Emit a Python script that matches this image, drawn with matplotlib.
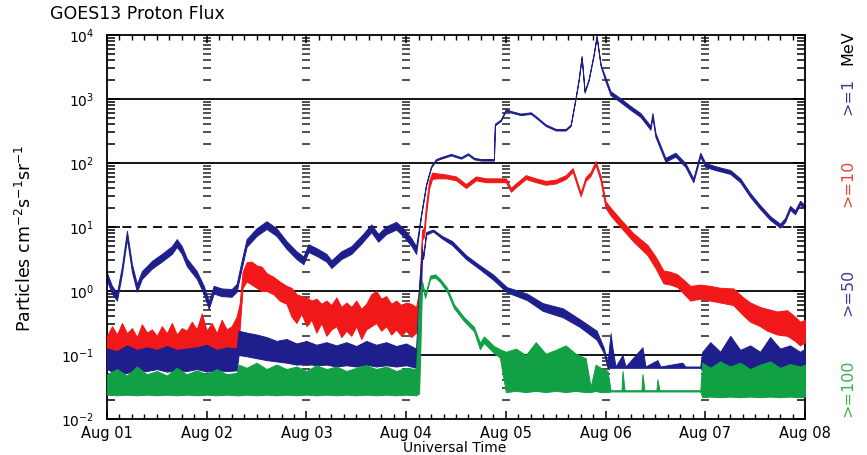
import numpy as np
import matplotlib
matplotlib.use('Agg')
import matplotlib.pyplot as plt
from matplotlib.ticker import MultipleLocator, LogLocator, FixedLocator, NullFormatter

# time in days since Aug 01 00 UT, flux as log10 (low / high edge of the noisy trace)
p1_t = [0.00, 0.05, 0.10, 0.15, 0.20, 0.25, 0.30, 0.35, 0.45, 0.55, 0.65, 0.70, 0.75, 0.80,
        0.90, 0.97, 1.02, 1.07, 1.15, 1.25, 1.30, 1.35, 1.40, 1.50, 1.60, 1.70, 1.80, 1.90,
        1.97, 2.02, 2.10, 2.20, 2.25, 2.35, 2.45, 2.55, 2.65, 2.72, 2.80, 2.90, 2.97, 3.05,
        3.10, 3.15, 3.20, 3.25, 3.30, 3.35, 3.45, 3.55, 3.62, 3.68, 3.75, 3.80, 3.88, 3.89,
        3.95, 4.00, 4.05, 4.15, 4.25, 4.30, 4.40, 4.50, 4.60, 4.65, 4.70, 4.73, 4.76, 4.79,
        4.83, 4.88, 4.91, 4.95, 5.00, 5.05, 5.15, 5.25, 5.35, 5.45, 5.47, 5.50, 5.60, 5.70,
        5.80, 5.88, 5.95, 6.00, 6.10, 6.25, 6.35, 6.45, 6.55, 6.65, 6.75, 6.80, 6.85, 6.90,
        6.95, 7.00]
p1_v = [0.22, 0.02, -0.09, 0.33, 0.88, 0.36, 0.05, 0.25, 0.41, 0.52, 0.64, 0.75, 0.64, 0.45,
        0.25, 0.02, -0.22, 0.02, -0.02, -0.03, 0.05, 0.41, 0.75, 0.92, 1.03, 0.92, 0.72, 0.56,
        0.48, 0.67, 0.61, 0.52, 0.42, 0.56, 0.64, 0.80, 0.98, 0.83, 0.95, 1.02, 0.92, 0.77,
        0.64, 1.19, 1.66, 1.94, 2.05, 2.08, 2.13, 2.08, 2.14, 2.07, 2.05, 2.05, 2.05, 2.60,
        2.67, 2.83, 2.80, 2.76, 2.78, 2.72, 2.59, 2.52, 2.52, 2.59, 3.02, 3.30, 3.66, 3.11,
        3.30, 3.69, 3.98, 3.53, 3.30, 3.09, 2.98, 2.86, 2.75, 2.55, 2.75, 2.44, 2.05, 2.13,
        1.97, 1.73, 2.13, 1.97, 1.92, 1.86, 1.73, 1.50, 1.31, 1.14, 1.02, 1.11, 1.30, 1.23,
        1.38, 1.31]
p1_w = [0.06] * 43 + [0.012] * 31 + [0.03] * 26

p10_t = [0.00, 0.05, 0.10, 0.15, 0.20, 0.25, 0.30, 0.35, 0.40, 0.45, 0.50, 0.55, 0.60, 0.65,
         0.70, 0.75, 0.80, 0.85, 0.90, 0.95, 1.00, 1.05, 1.10, 1.15, 1.20, 1.25, 1.30, 1.33,
         1.36, 1.40, 1.45, 1.50, 1.55, 1.60, 1.67, 1.73, 1.80, 1.85, 1.90, 1.95, 2.00, 2.05,
         2.10, 2.15, 2.20, 2.25, 2.30, 2.35, 2.40, 2.45, 2.50, 2.55, 2.60, 2.65, 2.70, 2.75,
         2.80, 2.85, 2.90, 2.95, 3.00, 3.05, 3.10, 3.13, 3.16, 3.18, 3.20, 3.23, 3.26, 3.30,
         3.40, 3.50, 3.60, 3.70, 3.80, 3.90, 4.00, 4.05, 4.10, 4.20, 4.30, 4.40, 4.50, 4.60,
         4.67, 4.75, 4.80, 4.85, 4.90, 4.95, 5.00, 5.05, 5.15, 5.28, 5.42, 5.50, 5.58, 5.65,
         5.72, 5.85, 5.95, 6.05, 6.15, 6.28, 6.38, 6.45, 6.55, 6.62, 6.72, 6.82, 6.90, 6.95,
         7.00]
p10_lo = [-0.97, -0.98, -0.97, -0.96, -0.98, -0.97, -0.97, -0.96, -0.97, -0.98, -0.97, -0.96,
          -0.97, -0.97, -0.98, -0.96, -0.97, -0.97, -0.96, -0.97, -0.98, -0.97, -0.97, -0.96,
          -0.97, -0.97, -0.95, -0.60, 0.05, 0.15, 0.10, 0.05, 0.00, 0.00, -0.05, -0.15, -0.20,
          -0.40, -0.50, -0.35, -0.55, -0.45, -0.65, -0.50, -0.70, -0.60, -0.55, -0.72, -0.62,
          -0.70, -0.55, -0.75, -0.60, -0.55, -0.50, -0.62, -0.55, -0.68, -0.60, -0.70, -0.62,
          -0.72, -0.65, -0.50, 0.80, 0.85, 1.20, 1.60, 1.75, 1.76, 1.76, 1.73, 1.61, 1.73, 1.70,
          1.70, 1.70, 1.55, 1.62, 1.75, 1.70, 1.66, 1.68, 1.75, 1.86, 1.48, 1.72, 1.80, 1.97,
          1.72, 1.30, 1.18, 1.00, 0.77, 0.56, 0.36, 0.12, 0.10, 0.06, -0.15, -0.12, -0.15,
          -0.18, -0.22, -0.38, -0.48, -0.55, -0.62, -0.68, -0.70, -0.78, -0.85, -0.80]
p10_hi = [-0.70, -0.55, -0.68, -0.50, -0.66, -0.58, -0.72, -0.52, -0.65, -0.60, -0.70, -0.55,
          -0.66, -0.50, -0.68, -0.58, -0.62, -0.48, -0.60, -0.35, -0.62, -0.50, -0.66, -0.45,
          -0.60, -0.55, -0.40, -0.20, 0.30, 0.45, 0.46, 0.40, 0.38, 0.28, 0.22, 0.15, 0.08,
          0.05, -0.05, -0.08, -0.10, -0.15, -0.12, -0.20, -0.15, -0.22, -0.10, -0.25, -0.18,
          -0.25, -0.15, -0.28, -0.20, -0.05, 0.00, -0.12, -0.08, -0.20, -0.15, -0.22, -0.18,
          -0.20, -0.25, 0.00, 0.95, 1.00, 1.35, 1.72, 1.85, 1.84, 1.82, 1.79, 1.67, 1.79, 1.76,
          1.76, 1.76, 1.61, 1.68, 1.81, 1.76, 1.72, 1.74, 1.81, 1.92, 1.54, 1.78, 1.86, 2.03,
          1.80, 1.40, 1.30, 1.12, 0.90, 0.72, 0.54, 0.32, 0.30, 0.26, 0.08, 0.10, 0.08, 0.05,
          0.04, -0.10, -0.18, -0.25, -0.28, -0.32, -0.30, -0.40, -0.48, -0.45]

p50_t = [0.00, 0.10, 0.20, 0.30, 0.40, 0.50, 0.60, 0.70, 0.80, 0.90, 1.00, 1.10, 1.20, 1.30,
         1.32, 1.40, 1.50, 1.60, 1.70, 1.80, 1.90, 2.00, 2.10, 2.20, 2.30, 2.40, 2.50, 2.60,
         2.70, 2.80, 2.90, 3.00, 3.10, 3.13, 3.16, 3.17, 3.20, 3.27, 3.36, 3.46, 3.60, 3.73,
         3.87, 4.01, 4.21, 4.37, 4.57, 4.74, 4.91, 4.98, 5.02, 5.05, 5.07, 5.10, 5.17, 5.20,
         5.37, 5.40, 5.52, 5.55, 5.77, 5.80, 5.95, 5.97, 6.05, 6.15, 6.25, 6.35, 6.45, 6.55,
         6.65, 6.75, 6.85, 6.95, 7.00]
p50_lo = [-1.22, -1.30, -1.28, -1.24, -1.25, -1.22, -1.26, -1.24, -1.25, -1.22, -1.26, -1.24,
          -1.25, -1.24, -1.00, -1.02, -1.05, -1.08, -1.10, -1.12, -1.15, -1.14, -1.16, -1.15,
          -1.18, -1.16, -1.18, -1.15, -1.18, -1.16, -1.18, -1.16, -1.20, -1.18, 0.60, 0.50,
          0.88, 0.93, 0.82, 0.72, 0.50, 0.35, 0.18, -0.02, -0.14, -0.31, -0.41, -0.56, -0.76,
          -0.96, -1.20, -1.20, -1.20, -1.20, -1.20, -1.20, -1.20, -1.20, -1.20, -1.20, -1.20,
          -1.20, -1.20, -1.23, -1.22, -1.23, -1.22, -1.23, -1.22, -1.23, -1.22, -1.23, -1.22,
          -1.23, -1.22]
p50_hi = [-0.90, -0.94, -0.85, -0.92, -0.88, -0.92, -0.86, -0.92, -0.90, -0.88, -0.84, -0.92,
          -0.88, -0.90, -0.62, -0.65, -0.68, -0.72, -0.78, -0.75, -0.82, -0.78, -0.84, -0.80,
          -0.85, -0.80, -0.86, -0.78, -0.84, -0.80, -0.86, -0.82, -0.90, 0.10, 0.66, 0.54,
          0.92, 0.96, 0.86, 0.78, 0.56, 0.41, 0.26, 0.06, -0.04, -0.19, -0.27, -0.44, -0.62,
          -0.88, -1.12, -0.66, -0.90, -1.18, -1.00, -1.18, -0.88, -1.18, -1.08, -1.18, -1.12,
          -1.18, -1.18, -0.95, -0.80, -0.95, -0.70, -0.92, -0.85, -0.95, -0.72, -0.90, -0.85,
          -0.95, -0.90]

p100_t = [0.00, 0.10, 0.20, 0.30, 0.40, 0.50, 0.60, 0.70, 0.80, 0.90, 1.00, 1.10, 1.20, 1.30,
          1.32, 1.40, 1.50, 1.60, 1.70, 1.80, 1.90, 2.00, 2.10, 2.20, 2.30, 2.40, 2.50, 2.60,
          2.70, 2.80, 2.90, 3.00, 3.10, 3.13, 3.16, 3.19, 3.24, 3.29, 3.34, 3.41, 3.48, 3.58,
          3.68, 3.74, 3.78, 3.88, 3.94, 4.00, 4.10, 4.20, 4.30, 4.40, 4.50, 4.60, 4.70, 4.80,
          4.85, 4.90, 4.95, 5.02, 5.05, 5.16, 5.17, 5.19, 5.36, 5.37, 5.39, 5.51, 5.52, 5.54,
          5.95, 5.97, 6.05, 6.15, 6.25, 6.35, 6.45, 6.55, 6.65, 6.75, 6.85, 6.95, 7.00]
p100_lo = [-1.62, -1.63, -1.62, -1.63, -1.62, -1.63, -1.62, -1.63, -1.62, -1.63, -1.62, -1.63,
           -1.62, -1.63, -1.63, -1.62, -1.63, -1.62, -1.63, -1.62, -1.63, -1.62, -1.63, -1.62,
           -1.63, -1.62, -1.63, -1.62, -1.63, -1.62, -1.63, -1.62, -1.63, -1.60, 0.11, -0.11,
           0.19, 0.21, 0.14, -0.01, -0.27, -0.47, -0.63, -0.91, -0.81, -0.97, -1.04, -1.58,
           -1.56, -1.58, -1.56, -1.58, -1.56, -1.58, -1.56, -1.58, -1.58, -1.56, -1.58, -1.58,
           -1.57, -1.57, -1.57, -1.57, -1.57, -1.57, -1.57, -1.57, -1.57, -1.57, -1.57, -1.66,
           -1.65, -1.66, -1.65, -1.66, -1.65, -1.66, -1.65, -1.66, -1.65, -1.66, -1.65]
p100_hi = [-1.30, -1.22, -1.32, -1.18, -1.30, -1.25, -1.32, -1.20, -1.30, -1.24, -1.30, -1.22,
           -1.30, -1.28, -1.15, -1.20, -1.12, -1.22, -1.15, -1.22, -1.18, -1.25, -1.16, -1.22,
           -1.18, -1.25, -1.20, -1.16, -1.22, -1.18, -1.25, -1.20, -1.22, -0.10, 0.15, -0.07,
           0.24, 0.26, 0.19, 0.05, -0.21, -0.41, -0.56, -0.81, -0.71, -0.86, -0.91, -0.95,
           -0.90, -1.00, -0.80, -0.98, -0.92, -0.85, -0.98, -1.05, -1.50, -1.15, -1.20, -1.25,
           -1.55, -1.55, -1.25, -1.55, -1.55, -1.30, -1.55, -1.55, -1.38, -1.55, -1.55, -1.12,
           -1.20, -1.10, -1.18, -1.12, -1.22, -1.15, -1.10, -1.20, -1.14, -1.18, -1.15]

day_labels = ['Aug 01', 'Aug 02', 'Aug 03', 'Aug 04', 'Aug 05', 'Aug 06', 'Aug 07', 'Aug 08']

navy = '#1e1e8c'
red = '#f01818'
green = '#12a044'

fig = plt.figure(figsize=(8.67, 4.55), dpi=100)
ax = fig.add_axes([107/867, 1-419/455, 698/867, 384/455])

# threshold lines
for yy in [1e3, 1e2, 1e0, 1e-1]:
    ax.axhline(yy, color='black', lw=1.3, zorder=1)
ax.axhline(1e1, color='black', lw=1.3, ls=(0, (5, 3.5)), zorder=1)

# day separators drawn as columns of minor log ticks
minor_y = [m * 10.0**k for k in range(-2, 4) for m in range(2, 10)]
for d in range(1, 7):
    ax.plot([d] * len(minor_y), minor_y, ls='none', marker='_', ms=6, mew=1.1,
            color='#222222', zorder=1)

series = [
    (p1_t, np.array(p1_v) - np.array(p1_w), np.array(p1_v) + np.array(p1_w), navy),
    (p10_t, np.array(p10_lo), np.array(p10_hi), red),
    (p50_t, np.array(p50_lo), np.array(p50_hi), navy),
    (p100_t, np.array(p100_lo), np.array(p100_hi), green),
]
for i, (t, lo, hi, c) in enumerate(series):
    ax.fill_between(t, 10**lo, 10**hi, facecolor=c, edgecolor=c, lw=0.7, zorder=2 + i)

ax.set_yscale('log')
ax.set_ylim(1e-2, 1e4)
ax.set_xlim(0, 7)
ax.set_xticks(range(8))
ax.set_xticklabels(day_labels)
ax.xaxis.set_minor_locator(MultipleLocator(0.125))
ax.yaxis.set_major_locator(FixedLocator([10.0**k for k in range(-2, 5)]))
ax.set_yticklabels([r'$10^{%d}$' % k for k in range(-2, 5)])
ax.yaxis.set_minor_locator(LogLocator(base=10, subs=np.arange(2, 10)))
ax.yaxis.set_minor_formatter(NullFormatter())
ax.tick_params(axis='both', which='both', direction='in', top=True, right=True,
               colors='black')
ax.tick_params(axis='y', which='major', length=9, width=1.2, pad=9, labelsize=10)
ax.tick_params(axis='y', which='minor', length=6, width=1.1)
ax.tick_params(axis='x', which='major', length=6, width=1.1, pad=5, labelsize=10.5)
ax.tick_params(axis='x', which='minor', length=3.5, width=1.0)
for s in ax.spines.values():
    s.set_linewidth(1.3)

fig.text(455/867, 1-448/455, 'Universal Time', fontsize=10, ha='center', va='center')
fig.text(25/867, 1-238/455, r'Particles cm$^{-2}$s$^{-1}$sr$^{-1}$', fontsize=12.5,
         rotation=90, ha='center', va='center')

fig.text(50/867, 1-14/455, 'GOES13 Proton Flux', fontsize=12.5, va='center', ha='left')

right_labels = [('MeV', 48, 'black'), ('>=1', 96, '#3a3aa0'), ('>=10', 183, '#e84438'),
                ('>=50', 292, '#3a3aa0'), ('>=100', 388, '#3cb050')]
for txt, yp, c in right_labels:
    fig.text(848/867, 1-yp/455, txt, rotation=90, color=c, fontsize=11.5,
             ha='center', va='center')

fig.savefig('out.png', dpi=100)
